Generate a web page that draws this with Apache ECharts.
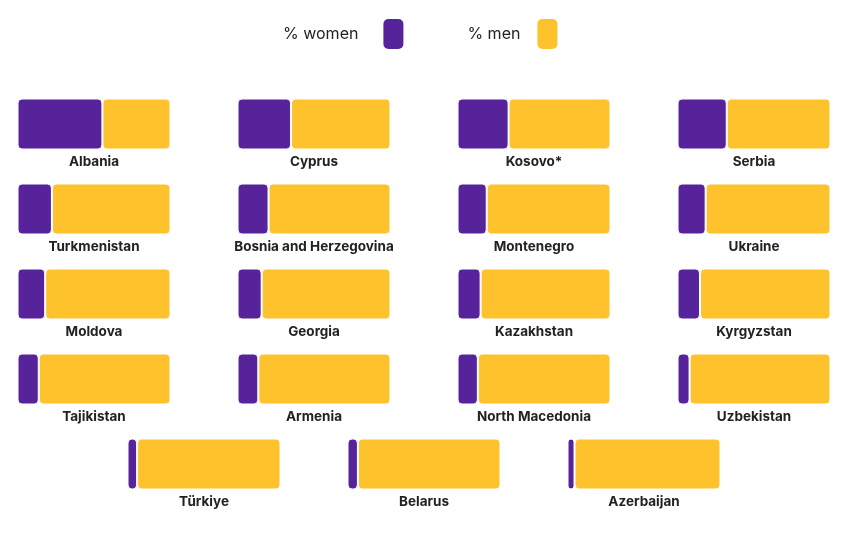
<!doctype html>
<html>
<head>
    <meta charset="utf-8">
    <title>women and men</title>
    <style type="text/css">
        body, html {
            width: 100%;
            height: 100%;
            margin: 0;
            padding: 0;
            background: #fff;
        }
    </style>
    <script src="https://cdn.jsdelivr.net/npm/echarts@6/dist/echarts.min.js"></script>
</head>
<body>
<div id="container" style="width: 854px; height: 533px"></div>
<script type="text/javascript">
    const countries = ['Albania', 'Cyprus', 'Kosovo*', 'Serbia',
        'Turkmenistan', 'Bosnia and Herzegovina', 'Montenegro', 'Ukraine',
        'Moldova', 'Georgia', 'Kazakhstan', 'Kyrgyzstan',
        'Tajikistan', 'Armenia', 'North Macedonia', 'Uzbekistan',
        'Türkiye', 'Belarus', 'Azerbaijan'];
    const women = [55.5, 35, 33.4, 32.2,
        22.5, 20.3, 19.1, 18.4,
        18.1, 15.8, 15.1, 14.7,
        13.9, 13.6, 13.3, 7.9,
        6.3, 6.8, 4.6];
    const men = [44.5, 65, 66.6, 67.8,
        77.5, 79.7, 80.9, 81.6,
        81.9, 84.2, 84.9, 85.3,
        86.1, 86.4, 86.7, 92.1,
        93.7, 93.2, 95.4];

    const PURPLE = '#57239b';
    const YELLOW = '#fec22d';
    const FONT = 'Inter, "Noto Sans", sans-serif';

    const dom = document.getElementById('container');
    const myChart = echarts.init(dom, null, {renderer: 'canvas'});

    const grids = [], xAxes = [], yAxes = [], series = [];
    countries.forEach(function (name, i) {
        const row = Math.floor(i / 4);
        const col = i % 4;
        const left = (row === 4 ? 128 : 18) + col * 220;
        // white 1px border eats half a pixel, so grid is a hair wider than the bar
        grids.push({left: left - 0.5, top: 99 + row * 85, width: 153, height: 50});
        xAxes.push({
            gridIndex: i, type: 'value', min: 0, max: 100,
            name: name, nameLocation: 'middle', nameGap: 6,
            nameTextStyle: {fontFamily: FONT, fontSize: 13.5, fontWeight: 'bold', color: '#222'},
            axisLine: {show: false}, axisTick: {show: false},
            axisLabel: {show: false}, splitLine: {show: false}
        });
        yAxes.push({
            gridIndex: i, type: 'category', data: [name], show: false
        });
        const common = {
            type: 'bar', xAxisIndex: i, yAxisIndex: i, stack: 's' + i,
            barWidth: 51, silent: true
        };
        series.push(Object.assign({}, common, {
            name: '% women', data: [women[i]],
            itemStyle: {color: PURPLE, borderColor: '#fff', borderWidth: 1, borderRadius: 4}
        }));
        series.push(Object.assign({}, common, {
            name: '% men', data: [men[i]],
            itemStyle: {color: YELLOW, borderColor: '#fff', borderWidth: 1, borderRadius: 4}
        }));
    });

    const option = {
        animation: false,
        legend: {
            data: [
                {name: '% women', textStyle: {padding: [0, 20, 0, 0]}},
                {name: '% men', textStyle: {padding: [0, 12, 0, 0]}}
            ],
            left: 283,
            top: 19,
            padding: 0,
            align: 'right',
            icon: 'roundRect',
            itemWidth: 20,
            itemHeight: 30,
            itemGap: 64,
            selectedMode: false,
            itemStyle: {borderWidth: 0},
            textStyle: {fontFamily: FONT, fontSize: 16, color: '#222'}
        },
        grid: grids,
        xAxis: xAxes,
        yAxis: yAxes,
        series: series
    };

    myChart.setOption(option);
    window.addEventListener('resize', myChart.resize);
</script>
</body>
</html>
